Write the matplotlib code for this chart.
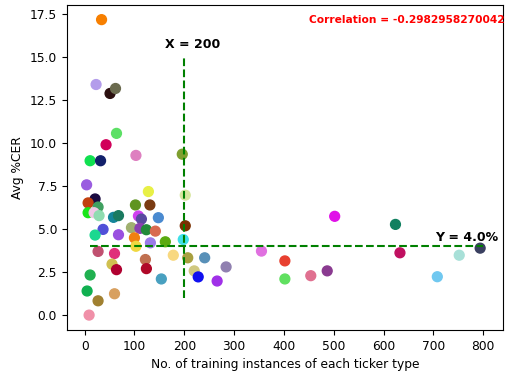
import matplotlib
matplotlib.use('Agg')
import matplotlib.pyplot as plt

# no. of training instances per ticker type
instances = [34, 23, 51, 62, 64, 43, 11, 32, 103, 196,
             4, 128, 21, 202, 7, 27, 102, 131, 7, 19,
             29, 58, 68, 108, 114, 148, 202, 37, 94, 111,
             124, 142, 21, 68, 100, 198, 132, 162, 103, 27,
             60, 178, 207, 241, 122, 55, 64, 124, 220, 228,
             284, 11, 154, 266, 5, 60, 27, 9, 502, 624,
             355, 402, 633, 794, 752, 402, 454, 487, 708]

# average %CER per ticker type
avg_cer = [17.17, 13.4, 12.88, 13.17, 10.56, 9.9, 8.97, 8.97, 9.28, 9.35,
           7.57, 7.18, 6.75, 6.97, 6.52, 6.28, 6.4, 6.4, 5.95, 5.95,
           5.78, 5.68, 5.78, 5.76, 5.58, 5.66, 5.19, 4.98, 5.08, 5.04,
           4.96, 4.88, 4.65, 4.67, 4.49, 4.39, 4.2, 4.26, 4.0, 3.7,
           3.58, 3.48, 3.33, 3.33, 3.23, 2.96, 2.64, 2.7, 2.57, 2.22,
           2.8, 2.33, 2.1, 1.98, 1.4, 1.24, 0.83, 0.0, 5.74, 5.27,
           3.72, 3.15, 3.62, 3.89, 3.48, 2.1, 2.29, 2.57, 2.23]

colors = ['#f77f00', '#b39ceb', '#2b0f0f', '#6b6b4f', '#5ce065', '#d1005a', '#10e050', '#12206b', '#de7fc0', '#7f9f2f',
          '#9a5ce0', '#e8f046', '#1a0a40', '#d8e6a0', '#c2400f', '#3fa060', '#5f9420', '#7a3b12', '#19e619', '#f0c8e6',
          '#8fdcb0', '#15859a', '#1a7a60', '#d040f0', '#5a4aa0', '#4a8ad0', '#7a3000', '#5050d8', '#a0b070', '#8a40b0',
          '#228b3a', '#d86a50', '#1ad890', '#9a50e0', '#f08010', '#40e0e8', '#9a7ae8', '#5aaa10', '#f0d840', '#c05070',
          '#e0307a', '#f8d880', '#a8a040', '#5890b8', '#c07050', '#d0c050', '#b00030', '#b00828', '#d0c880', '#1010f0',
          '#9080b0', '#20b050', '#48a0c0', '#a030e8', '#10b050', '#d8a060', '#a08030', '#f090a8', '#e010e8', '#108060',
          '#e070e0', '#e84030', '#c01060', '#3a4060', '#a8e0d8', '#60e060', '#e07090', '#8a3a90', '#70c8f0']

x_thresh = 200
y_thresh = 4.0
corr_text = 'Correlation = -0.2982958270042'

plt.rcParams['font.size'] = 8.8

fig = plt.figure(figsize=(5.06, 3.74), dpi=100)
ax = fig.add_axes([0.132, 0.118, 0.862, 0.869])

ax.scatter(instances, avg_cer, c=colors, s=50, zorder=2)

ax.vlines(x_thresh, 1, 15, colors='green', linestyles='--', linewidth=1.5, zorder=3)
ax.hlines(y_thresh, 10, 800, colors='green', linestyles='--', linewidth=1.5, zorder=3)

ax.text(162, 15.75, 'X = %d' % x_thresh, fontsize=9, fontweight='bold', va='center')
ax.text(703, 4.5, 'Y = %.1f%%' % y_thresh, fontsize=9, fontweight='bold', va='center')
ax.text(450, 17.15, corr_text, fontsize=7.7, fontweight='bold', color='red', va='center')

ax.set_xlabel('No. of training instances of each ticker type')
ax.set_ylabel('Avg %CER')

fig.savefig('out.png', dpi=100)
